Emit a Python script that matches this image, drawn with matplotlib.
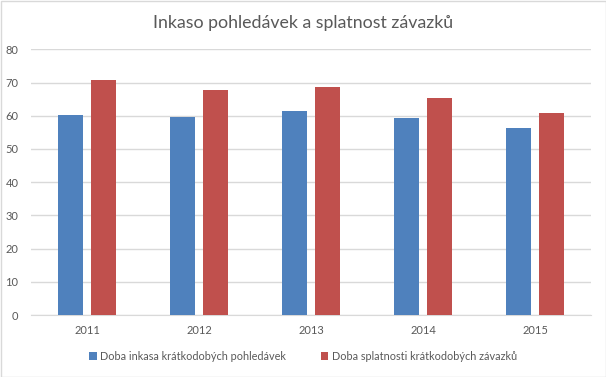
import matplotlib
matplotlib.use("Agg")
import matplotlib.pyplot as plt
import numpy as np
from matplotlib.patches import Rectangle

plt.rcParams['font.family'] = ['Lato', 'DejaVu Sans']

years = ['2011', '2012', '2013', '2014', '2015']
inkaso = [60.1, 59.6, 61.4, 59.3, 56.3]
splatnost = [70.8, 67.8, 68.7, 65.4, 60.8]
series_names = ['Doba inkasa krátkodobých pohledávek', 'Doba splatnosti krátkodobých závazků']
title = 'Inkaso pohledávek a splatnost závazků'

blue = '#4F81BD'
red = '#C0504D'
grid = '#D9D9D9'
txt = '#595959'

fig = plt.figure(figsize=(6.06, 3.77), dpi=100)
ax = fig.add_axes([31/606, 1-315/377, 560/606, (315-49.3)/377])

x = np.arange(len(years))
w = 0.223
off = 0.143
ax.bar(x - off, inkaso, w, color=blue, label=series_names[0], zorder=3)
ax.bar(x + off, splatnost, w, color=red, label=series_names[1], zorder=3)

ax.set_xlim(-0.5, len(years) - 0.5)
ax.set_ylim(0, 80)
ax.set_yticks(range(0, 81, 10))
ax.set_xticks(x)
ax.set_xticklabels(years)
ax.yaxis.grid(True, color=grid, linewidth=1, zorder=0)
for s in ['top', 'right', 'left']:
    ax.spines[s].set_visible(False)
ax.spines['bottom'].set_color(grid)
ax.tick_params(axis='both', length=0, labelsize=8, colors=txt)
ax.tick_params(axis='y', pad=9)
ax.tick_params(axis='x', pad=7)

fig.suptitle(title, y=0.96, fontsize=12.8, color=txt)

leg = fig.legend(loc='center', bbox_to_anchor=(0.5, 0.055), ncol=2, frameon=False,
                 fontsize=7.8, handlelength=0.7, handleheight=0.7, handletextpad=0.3,
                 columnspacing=3.2, labelcolor=txt)

fig.patches.append(Rectangle((0.5/606, 0.5/377), 1-1/606, 1-1/377, transform=fig.transFigure,
                             fill=False, edgecolor=grid, linewidth=1))

fig.savefig('out.png', dpi=100)
